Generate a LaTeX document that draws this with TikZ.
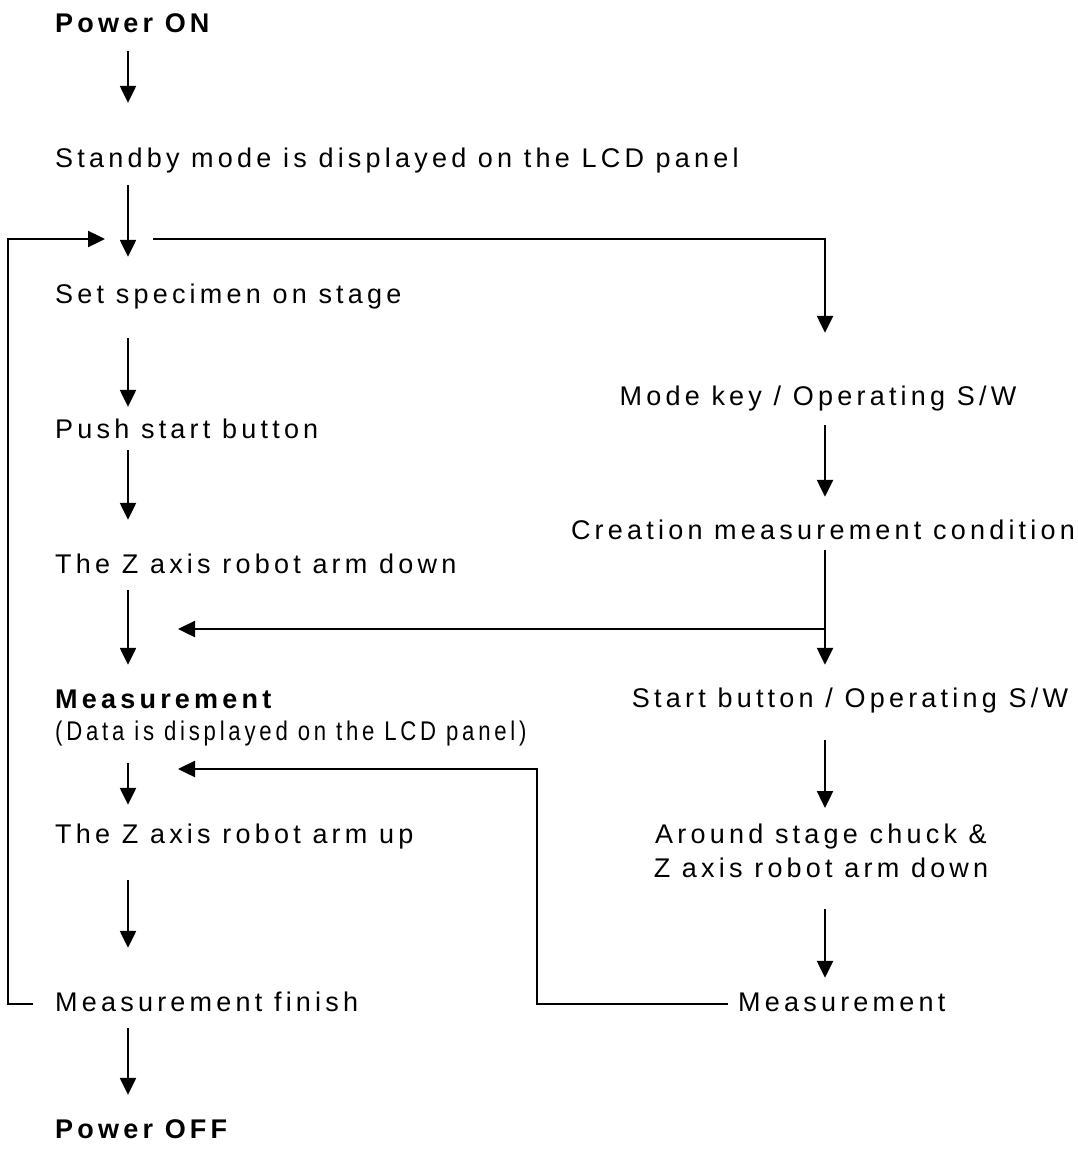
\documentclass[tikz,border=0pt]{standalone}
\usepackage{fontspec}
\setmainfont[LetterSpace=15.6]{Liberation Sans}
\newfontfamily\narrowfont[FakeStretch=0.82,LetterSpace=14]{Liberation Sans}
\usetikzlibrary{arrows.meta}
\tikzset{
  flow/.style={line width=2.4pt,-{Triangle[length=17pt,width=16pt]}},
  txt/.style={inner sep=0pt,text height=20pt,text depth=6pt,font=\fontsize{27}{34}\selectfont},
  head/.style={txt,font=\fontsize{27}{34}\selectfont\bfseries},
}

\begin{document}
\begin{tikzpicture}[x=1pt,y=-1pt]
\useasboundingbox (0,0) rectangle (1078,1151);

\coordinate (lx) at (128,0);
\coordinate (rx) at (825,0);
\coordinate (j1) at (128,239);
\coordinate (lp) at (8,239);
\coordinate (j3) at (825,629);
\coordinate (j4) at (537,769);

% left column
\node[head,anchor=base west] (on) at (55,32) {Power ON};
\node[txt,anchor=base west] (standby) at (55,167) {Standby mode is displayed on the LCD panel};
\node[txt,anchor=base west] (set) at (55,303) {Set specimen on stage};
\node[txt,anchor=base west] (push) at (55,438) {Push start button};
\node[txt,anchor=base west] (zdown) at (55,573) {The Z axis robot arm down};
\node[head,anchor=base west] (meas) at (55,708) {Measurement};
\node[txt,anchor=base west,font=\narrowfont\fontsize{27}{34}\selectfont] (data) at (55,740) {(Data is displayed on the LCD panel)};
\node[txt,anchor=base west] (zup) at (55,843) {The Z axis robot arm up};
\node[txt,anchor=base west] (finish) at (55,1011) {Measurement finish};
\node[head,anchor=base west] (off) at (55,1138) {Power OFF};

% right column
\node[txt,anchor=base] (mode) at (818,405) {Mode key / Operating S/W};
\node[txt,anchor=base] (cre) at (823,539) {Creation measurement condition};
\node[txt,anchor=base] (start) at (850,707) {Start button / Operating S/W};
\node[inner sep=0pt,align=center,anchor=north,font=\fontsize{27}{34}\selectfont] (around) at (821,824) {Around stage chuck \&\\ Z axis robot arm down};
\node[txt,anchor=base west] (meas2) at (738,1011) {Measurement};

\draw[flow,shorten <=13pt,shorten >=44pt] (on.south -| lx) -- (standby.north -| lx);
\draw[flow,shorten <=12pt,shorten >=26pt] (standby.south -| lx) -- (set.north -| lx);
\draw[flow,shorten <=29pt,shorten >=11pt] (set.south -| lx) -- (push.north -| lx);
\draw[flow,shorten <=6pt,shorten >=33pt] (push.south -| lx) -- (zdown.north -| lx);
\draw[flow,shorten <=11pt,shorten >=23pt] (zdown.south -| lx) -- (meas.north -| lx);
\draw[flow,shorten <=17pt,shorten >=18pt] (data.south -| lx) -- (zup.north -| lx);
\draw[flow,shorten <=31pt,shorten >=43pt] (zup.south -| lx) -- (finish.north -| lx);
\draw[flow,shorten <=11pt,shorten >=23pt] (finish.south -| lx) -- (off.north -| lx);

\draw[flow,shorten <=22pt,shorten >=23pt] (finish.west) -| (lp) -- (j1);
\draw[flow,shorten <=25pt,shorten >=52pt] (j1) -| (mode.north -| rx);

\draw[flow,shorten <=14pt,shorten >=22pt] (mode.south -| rx) -- (cre.north -| rx);
\draw[flow,shorten <=5pt,shorten >=22pt] (cre.south -| rx) -- (start.north -| rx);
\draw[flow,shorten >=50pt] (j3) -- (j3 -| lx);
\draw[flow,shorten <=27pt,shorten >=16pt] (start.south -| rx) -- (around.north -| rx);
\draw[flow,shorten <=31pt,shorten >=13pt] (around.south -| rx) -- (meas2.north -| rx);
\draw[flow,shorten <=10pt,shorten >=50pt] (meas2.west) -| (j4) -- (j4 -| lx);
\end{tikzpicture}
\end{document}
